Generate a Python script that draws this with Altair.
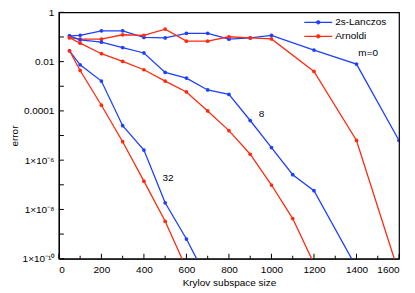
import altair as alt
import pandas as pd

# ---------------- data ----------------
methods = ["2s-Lanczos", "Arnoldi"]
colors = ["#1f3fff", "#ff2a10"]

lanczos_m0_x = [50, 100, 200, 300, 400, 500, 600, 700, 800, 900, 1000, 1200, 1400, 1600]
lanczos_m0_y = [0.110, 0.117, 0.178, 0.178, 0.0955, 0.0912, 0.141, 0.141, 0.0813, 0.0912, 0.117, 0.0295, 0.00794, 6.3e-6]

arnoldi_m0_x = [50, 100, 200, 300, 400, 500, 600, 700, 800, 900, 1000, 1200, 1400, 1600]
arnoldi_m0_y = [0.0933, 0.0813, 0.0813, 0.123, 0.117, 0.209, 0.0676, 0.0676, 0.102, 0.0912, 0.0832, 0.00398, 6.3e-6, 2.5e-11]

lanczos_m8_x = [50, 100, 200, 300, 400, 500, 600, 700, 800, 900, 1000, 1100, 1200, 1400]
lanczos_m8_y = [0.110, 0.0759, 0.0617, 0.0372, 0.0224, 0.00363, 0.00214, 0.000708, 0.000468, 4.07e-5, 3.24e-6, 2.57e-7, 5.75e-8, 4.4e-11]

arnoldi_m8_x = [50, 100, 200, 300, 400, 500, 600, 700, 800, 900, 1000, 1100, 1200]
arnoldi_m8_y = [0.0933, 0.0562, 0.0209, 0.0102, 0.00468, 0.00162, 0.000589, 0.0001, 1.58e-5, 1.74e-6, 9.8e-8, 4.27e-9, 6.3e-11]

lanczos_m32_x = [50, 100, 200, 300, 400, 500, 600, 700]
lanczos_m32_y = [0.0275, 0.00741, 0.00162, 2.5e-5, 2.57e-6, 1.86e-8, 6.3e-10, 1.35e-11]

arnoldi_m32_x = [50, 100, 200, 300, 400, 500, 600]
arnoldi_m32_y = [0.0275, 0.00437, 0.00017, 5.6e-6, 1.41e-7, 3.3e-9, 4e-11]

x_label_ticks = [0, 200, 400, 600, 800, 1000, 1200, 1400, 1600]
x_minor_ticks = [100, 300, 500, 700, 900, 1100, 1300, 1500]
y_label_exponents = [0, -2, -4, -6, -8, -10]
y_tick_text = ["1", "0.01", "0.0001", "1×10⁻⁶", "1×10⁻⁸", "1×10⁻¹⁰"]
y_label_ticks = [1, 1e-2, 1e-4, 1e-6, 1e-8, 1e-10]
y_all_ticks = [1, 1e-1, 1e-2, 1e-3, 1e-4, 1e-5, 1e-6, 1e-7, 1e-8, 1e-9, 1e-10]

annot_text = ["m=0", "8", "32"]
annot_x = [1455, 953, 513]
annot_y = [0.022, 7.4e-5, 1.95e-7]

# ---------------- build tables ----------------
series = [
    ("2s-Lanczos", "0", lanczos_m0_x, lanczos_m0_y),
    ("Arnoldi", "0", arnoldi_m0_x, arnoldi_m0_y),
    ("2s-Lanczos", "8", lanczos_m8_x, lanczos_m8_y),
    ("Arnoldi", "8", arnoldi_m8_x, arnoldi_m8_y),
    ("2s-Lanczos", "32", lanczos_m32_x, lanczos_m32_y),
    ("Arnoldi", "32", arnoldi_m32_x, arnoldi_m32_y),
]
rows = []
for meth, m, xs, ys in series:
    for i, (xv, yv) in enumerate(zip(xs, ys)):
        rows.append({"method": meth, "m": m, "order": i, "size": xv, "error": yv})
df = pd.DataFrame(rows)

W, H = 341, 247
FONT = "Liberation Sans"

xscale = alt.Scale(domain=[0, 1600], nice=False, zero=False)
yscale = alt.Scale(type="log", domain=[1e-10, 1], nice=False)

label_map = "{" + ",".join(f"'{e}':'{t}'" for e, t in zip(y_label_exponents, y_tick_text)) + "}"
y_label_expr = f"{label_map}['' + round(log(datum.value) / LN10)] || ''"

XTITLE = "Krylov subspace size"
YTITLE = "error"
xaxis = alt.Axis(values=x_label_ticks, ticks=False, grid=False, labelPadding=6, format="d")
yaxis = alt.Axis(values=y_label_ticks, ticks=False, grid=False,
                 labelExpr=y_label_expr, labelPadding=5, titlePadding=2)

legend_path = "M-2.8,0 L2.8,0 M0.3,0 A0.3,0.3 0 1,1 -0.3,0 A0.3,0.3 0 1,1 0.3,0"

color = alt.Color(
    "method:N",
    scale=alt.Scale(domain=methods, range=colors),
    title=None,
    legend=alt.Legend(
        orient="none", legendX=254, legendY=4, padding=0,
        symbolType=legend_path, symbolSize=100, symbolStrokeWidth=1.3,
        labelOffset=11, rowPadding=3, labelFontSize=10, labelFont=FONT,
        labelColor="black",
    ),
)

base = alt.Chart(df)
lines = base.mark_line(strokeWidth=1.3, clip=True).encode(
    x=alt.X("size:Q", scale=xscale, title=XTITLE, axis=xaxis),
    y=alt.Y("error:Q", scale=yscale, title=YTITLE, axis=yaxis),
    color=color,
    detail="m:N",
    order="order:Q",
)
points = base.mark_point(filled=True, size=14, opacity=1, clip=True).encode(
    x=alt.X("size:Q", scale=xscale, title=XTITLE, axis=xaxis),
    y=alt.Y("error:Q", scale=yscale, title=YTITLE, axis=yaxis),
    color=alt.Color("method:N", scale=alt.Scale(domain=methods, range=colors), legend=None),
)

xmaj = alt.Chart(pd.DataFrame({"t": x_label_ticks})).mark_rule(color="black", strokeWidth=1).encode(
    x=alt.X("t:Q", scale=xscale, title=XTITLE, axis=xaxis), y=alt.value(H), y2=alt.value(H - 5))
xmin = alt.Chart(pd.DataFrame({"t": x_minor_ticks})).mark_rule(color="black", strokeWidth=1).encode(
    x=alt.X("t:Q", scale=xscale, title=XTITLE, axis=xaxis), y=alt.value(H), y2=alt.value(H - 3))
yt = alt.Chart(pd.DataFrame({"t": y_all_ticks})).mark_rule(color="black", strokeWidth=1).encode(
    y=alt.Y("t:Q", scale=yscale, title=YTITLE, axis=yaxis), x=alt.value(0), x2=alt.value(5))

annots = alt.Chart(pd.DataFrame({"label": annot_text, "ax": annot_x, "ay": annot_y})).mark_text(
    fontSize=10, font=FONT, color="black").encode(
    x=alt.X("ax:Q", scale=xscale, title=XTITLE, axis=xaxis),
    y=alt.Y("ay:Q", scale=yscale, title=YTITLE, axis=yaxis),
    text="label:N")

chart = alt.layer(lines, points, xmaj, xmin, yt, annots).properties(
    width=W, height=H,
    autosize=alt.AutoSizeParams(type="none"),
    padding={"left": 51, "top": 4, "right": 8, "bottom": 30},
).configure_view(stroke="black", strokeWidth=1.2).configure_axis(
    domainColor="black", domainWidth=1.2, labelFont=FONT, titleFont=FONT,
    labelFontSize=10, titleFontSize=10, labelColor="black", titleColor="black",
    titleFontWeight="normal",
).configure_axisX(titlePadding=3)

chart.save("out.html", embed_options={"renderer": "svg", "actions": False})
